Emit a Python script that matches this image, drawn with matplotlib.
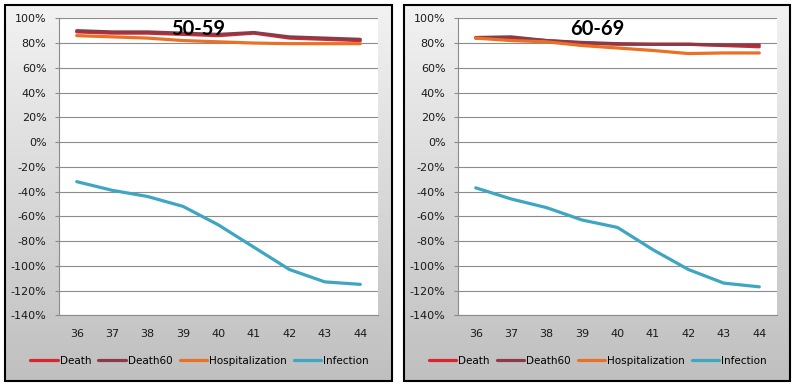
import numpy as np
import matplotlib
matplotlib.use("Agg")
import matplotlib.pyplot as plt
from matplotlib.patches import Rectangle
from matplotlib.ticker import PercentFormatter

plt.rcParams["axes.unicode_minus"] = False

weeks = [36, 37, 38, 39, 40, 41, 42, 43, 44]
series_names = ["Death", "Death60", "Hospitalization", "Infection"]
colors = ["#d9262e", "#8c3a48", "#ea7026", "#3ea6c2"]

# values in percent
death_5059 = [89, 88, 88, 87, 86, 88, 84, 83, 82]
death60_5059 = [90, 89, 89, 88, 87, 88.5, 85, 84, 83]
hosp_5059 = [86, 85, 84, 82, 81, 80, 79.5, 79.5, 79.5]
infect_5059 = [-32, -39, -44, -52, -67, -85, -103, -113, -115]

death_6069 = [84, 84, 82, 80, 79, 79, 79, 78, 77]
death60_6069 = [84.5, 85, 82, 80.5, 79.5, 79, 79, 78.5, 78.5]
hosp_6069 = [84, 82, 81, 78, 76, 74, 71.5, 72, 72]
infect_6069 = [-37, -46, -53, -63, -69, -87, -103, -114, -117]

panels = [
    ("50-59", [death_5059, death60_5059, hosp_5059, infect_5059]),
    ("60-69", [death_6069, death60_6069, hosp_6069, infect_6069]),
]

W, H = 797, 388
fig = plt.figure(figsize=(W / 100, H / 100), dpi=100)
fig.patch.set_facecolor("white")

def fx(px):
    return px / W

def fy(py):
    return 1 - py / H

panel_x = [(5, 392), (404, 790)]
plot_x = [(59, 378), (458, 777)]
top, bot = 18.3, 315.3

grad = np.linspace(0, 1, 256).reshape(-1, 1)
for i, (title, data) in enumerate(panels):
    x0, x1 = panel_x[i]
    bg = fig.add_axes([fx(x0), fy(381), fx(x1 - x0), (381 - 5) / H], zorder=0)
    c_top = np.array([0.95, 0.95, 0.95])
    c_bot = np.array([0.75, 0.75, 0.75])
    img = c_top + (c_bot - c_top) * grad[:, :, None]
    bg.imshow(img, aspect="auto", extent=[0, 1, 0, 1])
    bg.set_xlim(0, 1)
    bg.set_ylim(0, 1)
    bg.axis("off")
    bg.add_patch(Rectangle((0, 0), 1, 1, fill=False, edgecolor="black",
                           linewidth=1.5, transform=bg.transAxes, clip_on=False))

    p0, p1 = plot_x[i]
    ax = fig.add_axes([fx(p0), fy(bot), fx(p1 - p0), (bot - top) / H], zorder=1)
    ax.set_facecolor("white")
    x = np.arange(len(weeks))
    for name, vals, c in zip(series_names, data, colors):
        ax.plot(x, vals, color=c, linewidth=2.3, label=name,
                solid_capstyle="round")
    ax.set_xlim(-0.5, len(weeks) - 0.5)
    ax.set_ylim(-140, 100)
    ax.set_yticks(np.arange(-140, 101, 20))
    ax.yaxis.set_major_formatter(PercentFormatter(decimals=0))
    ax.set_xticks(x)
    ax.set_xticklabels([str(w) for w in weeks])
    ax.grid(axis="y", color="#8c8c8c", linewidth=0.8)
    ax.set_axisbelow(True)
    for s in ["top", "right"]:
        ax.spines[s].set_visible(False)
    for s in ["left", "bottom"]:
        ax.spines[s].set_color("#8c8c8c")
        ax.spines[s].set_linewidth(0.8)
    ax.tick_params(axis="y", length=3, width=0.8, color="#8c8c8c", pad=6,
                   labelsize=8, labelcolor="#1a1a1a")
    ax.tick_params(axis="x", length=0, pad=10, labelsize=8,
                   labelcolor="#1a1a1a")

    fig.text(fx((x0 + x1) / 2), fy(29), title, ha="center", va="center",
             fontsize=14.5, fontweight="bold", family=["Lato", "DejaVu Sans"],
             zorder=5)

    handles, labels = ax.get_legend_handles_labels()
    fig.legend(handles, labels, loc="center",
               bbox_to_anchor=(fx((x0 + x1) / 2 + 1), fy(361)),
               bbox_transform=fig.transFigure, ncol=4, frameon=False,
               fontsize=7.5, handlelength=2.6, handletextpad=0.2,
               columnspacing=0.7, borderpad=0)

fig.savefig("out.png", dpi=100)
